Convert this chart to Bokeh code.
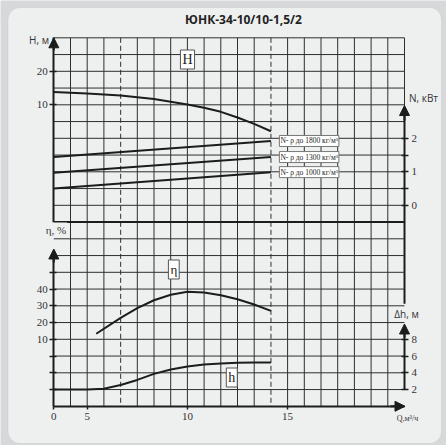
from bokeh.plotting import figure
from bokeh.models import (Range1d, LinearAxis, FixedTicker, Label, Arrow,
                          NormalHead, BoxAnnotation)
from bokeh.embed import file_html
from bokeh.resources import INLINE

# ---------------- data ----------------
TITLE = "ЮНК-34-10/10-1,5/2"

# Q axis (m3/h); left edge of the grid carries the label "0"
q_start = 10 / 3
q_end = q_start + 21 * 5 / 6
q_tick_values = [q_start, 5, 10, 15]
q_tick_labels = ["0", "5", "10", "15"]
q_work = [6.67, 14.17]          # dashed lines: working range

# head H, m
q_H = [3.33, 5.0, 6.67, 8.33, 10.0, 10.83, 11.67, 12.5, 13.33, 14.17]
H = [13.8, 13.4, 12.8, 11.7, 10.1, 9.1, 7.9, 6.2, 4.3, 2.1]

# power N, kW
q_N = [3.33, 14.17]
N_1800 = [1.44, 1.92]
N_1300 = [0.97, 1.44]
N_1000 = [0.50, 0.99]
N_series = [N_1800, N_1300, N_1000]
N_labels = ["N- ρ до 1800 кг/м³", "N- ρ до 1300 кг/м³", "N- ρ до 1000 кг/м³"]

# efficiency, %
q_eta = [5.45, 6.67, 7.5, 8.33, 9.17, 10.0, 10.83, 11.67, 12.5, 13.33, 14.17]
eta = [13.3, 22.8, 28.6, 33.3, 36.6, 38.4, 37.9, 36.3, 33.9, 30.8, 27.0]

# NPSH, m
q_dh = [3.33, 5.0, 5.83, 6.67, 7.5, 8.33, 9.17, 10.0, 10.83, 11.67, 12.5, 13.33, 14.17]
dh = [2.0, 2.0, 2.1, 2.55, 3.15, 3.87, 4.4, 4.76, 4.98, 5.12, 5.2, 5.22, 5.24]

H_ticks = [10, 20]
N_ticks = [0, 0.5, 1, 1.5, 2]
N_tick_labels = ["0", "", "1", "", "2"]
eta_ticks = [-20, -10, 0, 10, 20, 30, 40, 50]
eta_tick_labels = ["", "", "", "10", "20", "30", "40", ""]
dh_ticks = [2, 4, 6, 8]

# grid rows of each section
H_rows = [25, 20, 15, 10, 5, 0, -5, -10, -15, -20]
eta_rows = [70, 60, 50, 40, 30, 20, 10, 0, -10, -20]

# ---------------- style / layout (page pixels) ----------------
W, HT = 446, 445
INK = "#1c1c1c"
GRID = "#2e2e2e"
PANEL = "#eef0f0"
OUTER = "#d6d8d9"
SERIF = "Liberation Serif"
SANS = "Open Sans"

GL, GR, GT = 53.3, 404.0, 37.3      # grid left, right, top
ROW = 16.75
GM = GT + 11 * ROW                  # boundary between sections
GB = GT + 22 * ROW                  # Q axis
kQ = (q_end - q_start) / (GR - GL)


def Hpx(py):
    return 30 - (py - GT) * 5 / ROW


def Npx(py):
    return 5.0 - (py - GT) * 0.5 / ROW


def Epx(py):
    return 80 - (py - GM) * 10 / ROW


def Dpx(py):
    return 22 - (py - GM) * 2 / ROW


def Qpx(px):
    return q_start + (px - GL) * kQ


p = figure(width=W, height=HT, x_range=Range1d(0, W), y_range=Range1d(HT, 0),
           output_backend="svg", toolbar_location=None, title=None,
           x_axis_location=None, y_axis_location=None, min_border=0,
           background_fill_color=OUTER, border_fill_color=OUTER, outline_line_color=None)
p.extra_x_ranges = {"Q": Range1d(Qpx(0), Qpx(W))}
p.extra_y_ranges = {
    "H": Range1d(Hpx(HT), Hpx(0)),
    "N": Range1d(Npx(HT), Npx(0)),
    "eta": Range1d(Epx(HT), Epx(0)),
    "dh": Range1d(Dpx(HT), Dpx(0)),
}
p.xgrid.visible = False
p.ygrid.visible = False

# panel
p.add_layout(BoxAnnotation(left=7.5, right=441, top=7, bottom=443, fill_color=PANEL,
                           fill_alpha=1, line_color="#b8bbbc", line_width=1,
                           border_radius=12, level="underlay"))

# ---- grid ----
col_ticks = [q_start + k * 5 / 6 for k in range(1, 21) if k not in (4, 13)]
n = len(col_ticks)
p.segment(x0=col_ticks, y0=[GT] * n, x1=col_ticks, y1=[GB] * n, x_range_name="Q",
          line_color=GRID, line_width=1)
p.segment(x0=q_work, y0=[GT] * 2, x1=q_work, y1=[GB] * 2, x_range_name="Q",
          line_color=GRID, line_width=1, line_dash="5 3")
# right edge of upper section (thin part)
p.segment(x0=[q_end], y0=[GT], x1=[q_end], y1=[GM], x_range_name="Q",
          line_color=GRID, line_width=1)
# right edge of lower section (thick part)
p.segment(x0=[q_end], y0=[GM], x1=[q_end], y1=[303.3], x_range_name="Q",
          line_color=INK, line_width=2)
m = len(H_rows)
p.segment(x0=[q_start] * m, y0=H_rows, x1=[q_end] * m, y1=H_rows,
          x_range_name="Q", y_range_name="H", line_color=GRID, line_width=1)
p.segment(x0=[q_start], y0=[30], x1=[q_end], y1=[30],
          x_range_name="Q", y_range_name="H", line_color=GRID, line_width=1)
p.segment(x0=[q_start], y0=[-25], x1=[q_end], y1=[-25],
          x_range_name="Q", y_range_name="H", line_color=INK, line_width=2)
m = len(eta_rows)
p.segment(x0=[q_start] * m, y0=eta_rows, x1=[q_end] * m, y1=eta_rows,
          x_range_name="Q", y_range_name="eta", line_color=GRID, line_width=1)


# ---- axes ----
def axis_style(ax):
    ax.axis_line_width = 2
    ax.axis_line_color = INK
    ax.major_tick_in = 3
    ax.major_tick_out = 4
    ax.major_tick_line_width = 1.5
    ax.major_tick_line_color = INK
    ax.minor_tick_line_color = None
    ax.major_label_text_font = SERIF
    ax.major_label_text_font_size = "11px"
    ax.major_label_text_color = "#333333"
    ax.major_label_standoff = 2


axH = LinearAxis(y_range_name="H", fixed_location=GL, ticker=FixedTicker(ticks=H_ticks),
                 bounds=(-25, 30))
axis_style(axH)
p.add_layout(axH, "left")

axN = LinearAxis(y_range_name="N", fixed_location=GR, ticker=FixedTicker(ticks=N_ticks),
                 bounds=(-0.5, Npx(110)),
                 major_label_overrides=dict(zip(N_ticks, N_tick_labels)))
axis_style(axN)
axN.major_label_standoff = 3
p.add_layout(axN, "right")

axE = LinearAxis(y_range_name="eta", fixed_location=GL, ticker=FixedTicker(ticks=eta_ticks),
                 bounds=(-30, Epx(252)),
                 major_label_overrides=dict(zip(eta_ticks, eta_tick_labels)))
axis_style(axE)
p.add_layout(axE, "left")

axD = LinearAxis(y_range_name="dh", fixed_location=GR, ticker=FixedTicker(ticks=dh_ticks),
                 bounds=(2, Dpx(328)))
axis_style(axD)
axD.major_label_standoff = 3
p.add_layout(axD, "right")

axQ = LinearAxis(x_range_name="Q", fixed_location=GB, ticker=FixedTicker(ticks=q_tick_values),
                 bounds=(q_start, q_end),
                 major_label_overrides=dict(zip(q_tick_values, q_tick_labels)))
axis_style(axQ)
axQ.major_tick_in = 0
axQ.major_tick_out = 3
axQ.major_label_standoff = 4
p.add_layout(axQ, "below")


def head():
    return NormalHead(size=10, fill_color=INK, line_color=INK, line_width=1)


p.add_layout(Arrow(end=head(), x_start=GL, y_start=50, x_end=GL, y_end=GT,
                   line_width=2, line_color=INK))
p.add_layout(Arrow(end=head(), x_start=GR, y_start=120, x_end=GR, y_end=105,
                   line_width=2, line_color=INK))
p.add_layout(Arrow(end=head(), x_start=GL, y_start=262, x_end=GL, y_end=248.5,
                   line_width=2, line_color=INK))
p.add_layout(Arrow(end=head(), x_start=GR, y_start=337, x_end=GR, y_end=323.5,
                   line_width=2, line_color=INK))
p.add_layout(Arrow(end=head(), x_start=390, y_start=GB, x_end=404.5, y_end=GB,
                   line_width=2, line_color=INK))

# ---- curves ----
p.line(q_H, H, x_range_name="Q", y_range_name="H", line_width=2, line_color=INK)
for ser, txt in zip(N_series, N_labels):
    p.line(q_N, ser, x_range_name="Q", y_range_name="N", line_width=2, line_color=INK)
    p.add_layout(Label(x=q_N[-1] + 0.42, y=ser[-1], x_range_name="Q", y_range_name="N",
                       text=txt, text_font=SERIF, text_font_size="7.5px", text_color=INK,
                       text_align="left", text_baseline="middle",
                       background_fill_color="white", border_line_color="#777777",
                       border_line_width=1, padding=1))
p.line(q_eta, eta, x_range_name="Q", y_range_name="eta", line_width=2, line_color=INK)
p.line(q_dh, dh, x_range_name="Q", y_range_name="dh", line_width=2, line_color=INK)


# ---- texts ----
def box_label(x, y, text, size):
    p.add_layout(Label(x=x, y=y, text=text, text_font=SERIF, text_font_size=size,
                       text_color=INK, text_align="center", text_baseline="middle",
                       background_fill_color="white", border_line_color="#555555",
                       border_line_width=1, padding=2))


def plain_label(x, y, text, font, size, align="center", bg=None):
    p.add_layout(Label(x=x, y=y, text=text, text_font=font, text_font_size=size,
                       text_color="#333333", text_align=align, text_baseline="middle",
                       background_fill_color=bg, padding=1))


box_label(187, 59, "H", "14px")
box_label(173.3, 269, "η", "13px")
box_label(231.3, 377, "h", "14px")

p.add_layout(Label(x=243, y=19, text=TITLE, text_font=SANS, text_font_size="12px",
                   text_font_style="bold", text_color="#222222", text_align="center",
                   text_baseline="middle"))
plain_label(49.5, 39, "H, м", SANS, "10px", align="right")
plain_label(407.5, 97, "N, кВт", SANS, "10px", align="left")
plain_label(55.5, 229, "η, %", SERIF, "11px", bg=PANEL)
plain_label(406, 313.5, "Δh, м", SANS, "10px")
plain_label(407, 418, "Q,м³/ч", SERIF, "8px")

open("out.html", "w").write(file_html(p, INLINE, TITLE))
